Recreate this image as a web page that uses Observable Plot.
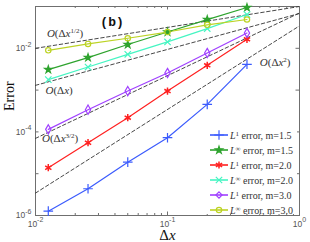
<!DOCTYPE html>
<html><head><meta charset="utf-8">
<script src="https://cdn.jsdelivr.net/npm/d3@7"></script>
<script src="https://cdn.jsdelivr.net/npm/@observablehq/plot@0.6"></script>
<style>
body{margin:0;background:#fff;}
#wrap{position:relative;width:310px;height:242px;overflow:hidden;}
#legend{position:absolute;background:#fff;font-family:"Liberation Serif",serif;font-size:10px;color:#333;}
#legend .row{position:absolute;left:0;height:14px;display:flex;align-items:center;white-space:nowrap;}
#legend sup{font-size:70%;line-height:0;vertical-align:0.45em;}
</style></head><body><div id="wrap"></div>
<script>
// ---- data ----
const dx = [0.0125, 0.025, 0.05, 0.1, 0.2, 0.4];
const L1_m15   = [1.27e-6, 4.37e-6, 1.89e-5, 7.26e-5, 4.56e-4, 4.14e-3];
const Linf_m15 = [3.09e-3, 5.98e-3, 1.23e-2, 2.45e-2, 4.86e-2, 9.44e-2];
const L1_m20   = [1.39e-5, 5.51e-5, 2.19e-4, 9.48e-4, 3.92e-3, 1.64e-2];
const Linf_m20 = [1.78e-3, 3.56e-3, 7.18e-3, 1.42e-2, 2.96e-2, 6.43e-2];
const L1_m30   = [1.15e-4, 3.40e-4, 9.48e-4, 2.56e-3, 7.71e-3, 2.32e-2];
const Linf_m30 = [8.95e-3, 1.27e-2, 1.74e-2, 2.45e-2, 3.65e-2, 4.89e-2];
const seriesLabels = ["L^{1} error, m=1.5","L^{∞} error, m=1.5","L^{1} error, m=2.0","L^{∞} error, m=2.0","L^{1} error, m=3.0","L^{∞} error, m=3.0"];

// reference slope lines (endpoints at dx = 0.01 and dx = 1)
const refX = [0.01, 1];
const refHalf = [1.0e-2, 1.0e-1];
const refOne = [1.3e-3, 6.8e-2];
const refThreeHalf = [7.0e-5, 7.0e-2];
const refTwo = [3.44e-6, 3.44e-2];
const refLabels = ["O(Δx^{1/2})", "O(Δx)", "O(Δx^{3/2})", "O(Δx^{2})"];
const refLabelX = [0.0122, 0.0119, 0.0112, 0.50];
const refLabelY = [2.3e-2, 9.6e-4, 6.9e-5, 4.5e-3];
const panelLabel = "(b)";

const xMajor = [0.01, 0.1, 1];
const xMinor = [0.02,0.03,0.04,0.05,0.06,0.07,0.08,0.09,0.2,0.3,0.4,0.5,0.6,0.7,0.8,0.9];
const xTickLabels = ["10^{-2}", "10^{-1}", "10^{0}"];
const yMajor = [1e-6, 1e-5, 1e-4, 1e-3, 1e-2, 1e-1];
const yLabeled = [1e-6, 1e-4, 1e-2];
const yTickLabels = ["10^{-6}", "10^{-4}", "10^{-2}"];
const xLabel = "Δx", yLabel = "Error";

// ---- styles ----
const colors = ["#3b5bfd", "#2ea32e", "#ff2020", "#45f5c2", "#a040ff", "#bcd324"];
const symbols = ["plus", "star", "asterisk", "times", "diamond", "circle"];
const radii = [3.2, 2.3, 3.4, 3.0, 2.8, 2.7];
const filled = [false, true, false, false, false, false];

const W = 310, H = 242, mL = 35, mR = 11, mT = 6, mB = 27;
const fw = W - mL - mR, fh = H - mT - mB;

const allSeries = [L1_m15, Linf_m15, L1_m20, Linf_m20, L1_m30, Linf_m30];
const rows = allSeries.flatMap((arr, s) => arr.map((v, i) => ({x: dx[i], y: v, s})));
const refs = [refHalf, refOne, refThreeHalf, refTwo];
const refRows = refs.flatMap((arr, k) => arr.map((v, i) => ({x: refX[i], y: v, k})));
const tickCol = "#6f6f6f";

const marks = [
  Plot.frame({stroke: tickCol, strokeWidth: 1}),
  Plot.tickX(xMajor, {x: d => d, insetTop: fh - 3.5, stroke: tickCol}),
  Plot.tickX(xMajor, {x: d => d, insetBottom: fh - 3.5, stroke: tickCol}),
  Plot.tickX(xMinor, {x: d => d, insetTop: fh - 2, stroke: tickCol}),
  Plot.tickX(xMinor, {x: d => d, insetBottom: fh - 2, stroke: tickCol}),
  Plot.tickY(yMajor, {y: d => d, insetRight: fw - 3.5, stroke: tickCol}),
  Plot.tickY(yMajor, {y: d => d, insetLeft: fw - 3.5, stroke: tickCol}),
  Plot.axisX({ticks: xMajor, tickSize: 0, tickPadding: 5, label: null, color: "#555", fontSize: 8.5,
    tickFormat: d => xTickLabels[xMajor.indexOf(d)]}),
  Plot.axisY({ticks: yLabeled, tickSize: 0, tickPadding: 4, label: null, color: "#555", fontSize: 8.5,
    tickFormat: d => yTickLabels[yLabeled.indexOf(d)]}),
  Plot.line(refRows, {x: "x", y: "y", z: "k", stroke: "#333", strokeWidth: 0.9, strokeDasharray: "3.5,2.5", clip: true}),
];
allSeries.forEach((arr, s) => {
  const d = rows.filter(r => r.s === s);
  marks.push(Plot.line(d, {x: "x", y: "y", stroke: colors[s], strokeWidth: 1.2}));
});
allSeries.forEach((arr, s) => {
  const d = rows.filter(r => r.s === s);
  marks.push(Plot.dot(d, {x: "x", y: "y", symbol: () => symbols[s], r: radii[s], stroke: colors[s],
    fill: filled[s] ? colors[s] : "none", strokeWidth: s === 2 ? 1.5 : 1.2}));
});
marks.push(Plot.text(refLabels.map((t, i) => ({t, x: refLabelX[i], y: refLabelY[i]})),
  {x: "x", y: "y", text: "t", textAnchor: "start", fontFamily: "Liberation Serif", fontSize: 11, fill: "#333"}));
marks.push(Plot.text([panelLabel], {x: () => 0.038, y: () => 0.043, text: d => d, fontFamily: "Liberation Mono",
  fontWeight: "bold", fontSize: 13, fill: "#111"}));
marks.push(Plot.text([yLabel], {frameAnchor: "left", dx: -26, rotate: -90, text: d => d,
  fontFamily: "Liberation Serif", fontSize: 14, fill: "#111"}));
marks.push(Plot.text([xLabel], {frameAnchor: "bottom", dy: 20, lineAnchor: "middle", text: d => d,
  fontFamily: "Liberation Serif", fontSize: 15, fill: "#111"}));

const svg = Plot.plot({
  width: W, height: H, marginLeft: mL, marginRight: mR, marginTop: mT, marginBottom: mB,
  x: {type: "log", domain: [0.01, 1]},
  y: {type: "log", domain: [1e-6, 1e-1]},
  style: {fontFamily: "Liberation Sans, Arial, sans-serif", background: "#fff"},
  marks
});

// rich text: ^{...} superscripts, italic O, x, L
const NS = "http://www.w3.org/2000/svg";
function tokens(str) {
  const out = []; let i = 0;
  while (i < str.length) {
    if (str[i] === "^" && str[i+1] === "{") {
      const j = str.indexOf("}", i);
      out.push({t: str.slice(i+2, j), sup: true}); i = j + 1;
    } else { out.push({t: str[i], italic: "OxL".includes(str[i])}); i++; }
  }
  return out;
}
svg.querySelectorAll("text").forEach(el => {
  const s = el.textContent;
  if (!/[\^OxL]/.test(s)) return;
  const fs = parseFloat(el.getAttribute("font-size") || getComputedStyle(el).fontSize) || 10;
  el.textContent = "";
  let shifted = 0;
  for (const tk of tokens(s)) {
    const ts = document.createElementNS(NS, "tspan");
    ts.textContent = tk.t;
    if (tk.sup) {
      ts.setAttribute("font-size", (fs * 0.7).toFixed(2));
      const up = fs * 0.42;
      ts.setAttribute("dy", (-up - shifted).toFixed(2)); shifted = up;
    } else {
      if (shifted) { ts.setAttribute("dy", shifted.toFixed(2)); shifted = 0; }
      if (tk.italic) ts.setAttribute("font-style", "italic");
    }
    el.appendChild(ts);
  }
});
const wrap = document.getElementById("wrap");
wrap.appendChild(svg);

// legend
const legend = document.createElement("div");
legend.id = "legend";
legend.style.left = "206px"; legend.style.top = "127px"; legend.style.width = "91px"; legend.style.height = "87px";
const symMap = {plus: d3.symbolPlus, star: d3.symbolStar, asterisk: d3.symbolAsterisk, times: d3.symbolTimes, diamond: d3.symbolDiamond2, circle: d3.symbolCircle};
seriesLabels.forEach((lab, s) => {
  const row = document.createElement("div");
  row.className = "row"; row.style.top = (1 + 15 * s) + "px";
  const path = d3.symbol(symMap[symbols[s]], Math.PI * radii[s] * radii[s])();
  row.innerHTML = `<svg width="24" height="14" style="flex:none"><line x1="4" x2="22" y1="7" y2="7" stroke="${colors[s]}" stroke-width="1.6"/>` +
    `<path transform="translate(13,7)" d="${path}" stroke="${colors[s]}" fill="${filled[s] ? colors[s] : "none"}" stroke-width="${s === 2 ? 1.5 : 1.2}"/></svg>` +
    `<span>` + lab.replace(/^L\^\{(.)\}/, "<i>L</i><sup>$1</sup>") + `</span>`;
  legend.appendChild(row);
});
wrap.appendChild(legend);
</script></body></html>
